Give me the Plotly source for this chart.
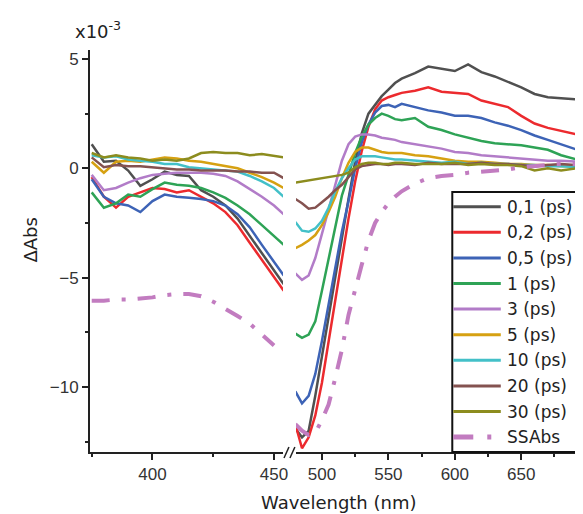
import plotly.graph_objects as go

# wavelengths (nm) of the two pieces of the broken axis
WL_LEFT = [375, 380, 385, 390, 395, 400, 405, 410, 415, 420, 425, 430, 435, 440, 445, 450, 454]
WL_RIGHT = [480, 485, 490, 495, 500, 505, 510, 515, 520, 525, 530, 535, 540, 545, 550, 555, 560,
            570, 580, 590, 600, 610, 620, 630, 640, 650, 660, 670, 680, 692]

# delta Abs in units of 1e-3
T01_L = [1.1, 0.3, 0.35, -0.1, -0.8, -0.5, -0.15, -0.3, -0.35, -1.0, -1.3, -1.7, -2.3, -3.1, -3.9, -4.7, -5.3]
T01_R = [-11.9, -12.3, -12.0, -10.4, -8.6, -6.8, -4.8, -3.1, -1.4, 0.3, 1.6, 2.5, 2.9, 3.3, 3.6, 3.9, 4.1,
         4.35, 4.65, 4.55, 4.45, 4.75, 4.4, 4.2, 3.95, 3.7, 3.4, 3.25, 3.2, 3.15]
T02_L = [-0.4, -1.3, -1.8, -1.3, -1.1, -0.9, -0.95, -1.1, -1.0, -1.3, -1.6, -2.0, -2.6, -3.4, -4.2, -5.0, -5.6]
T02_R = [-11.7, -12.8, -12.3, -11.3, -9.8, -7.9, -5.9, -4.1, -2.3, -0.6, 0.8, 1.9, 2.7, 3.1, 3.25, 3.35, 3.45,
         3.55, 3.7, 3.5, 3.45, 3.4, 3.1, 2.95, 2.8, 2.4, 2.05, 1.85, 1.7, 1.55]
T05_L = [-0.5, -1.3, -1.6, -1.7, -2.0, -1.5, -1.2, -1.3, -1.35, -1.4, -1.5, -1.7, -2.1, -2.7, -3.5, -4.3, -4.9]
T05_R = [-10.2, -10.75, -10.4, -9.4, -7.9, -6.2, -4.5, -2.9, -1.5, 0.0, 1.2, 2.0, 2.55, 2.85, 2.9, 2.8, 2.95,
         2.8, 2.65, 2.55, 2.4, 2.4, 2.3, 2.1, 1.95, 1.75, 1.5, 1.3, 1.1, 0.85]
T1_L = [-1.1, -1.8, -1.6, -1.2, -1.3, -0.95, -0.65, -0.75, -0.8, -0.9, -1.1, -1.35, -1.7, -2.1, -2.6, -3.1, -3.5]
T1_R = [-7.55, -7.75, -7.6, -7.0, -5.6, -4.1, -2.6, -1.25, -0.3, 0.7, 1.45, 2.0, 2.3, 2.5, 2.4, 2.25, 2.2,
        2.3, 1.9, 1.75, 1.55, 1.4, 1.25, 1.15, 1.1, 1.05, 0.95, 0.85, 0.6, 0.4]
T3_L = [-0.3, -1.0, -0.9, -0.65, -0.45, -0.3, -0.25, -0.2, -0.2, -0.2, -0.25, -0.35, -0.6, -0.95, -1.3, -1.7, -2.1]
T3_R = [-4.8, -5.1, -4.9, -4.1, -3.0, -1.9, -0.85, 0.35, 1.1, 1.45, 1.55, 1.55, 1.5, 1.4, 1.35, 1.3, 1.2,
        1.1, 1.0, 0.9, 0.75, 0.7, 0.6, 0.55, 0.5, 0.45, 0.4, 0.35, 0.35, 0.3]
T5_L = [0.3, -0.2, 0.3, 0.35, 0.3, 0.4, 0.5, 0.45, 0.35, 0.3, 0.2, 0.1, 0.0, -0.2, -0.4, -0.65, -0.9]
T5_R = [-3.65, -3.5, -3.3, -3.05, -2.6, -2.0, -1.3, -0.45, 0.25, 0.75, 0.95, 0.95, 0.85, 0.75, 0.7, 0.7, 0.7,
        0.6, 0.55, 0.45, 0.35, 0.3, 0.3, 0.25, 0.2, 0.2, 0.15, 0.15, 0.1, 0.1]
T10_L = [0.6, 0.5, 0.55, 0.4, 0.35, 0.3, 0.2, 0.2, 0.05, 0.0, -0.05, -0.1, -0.15, -0.35, -0.6, -0.9, -1.3]
T10_R = [-2.45, -2.85, -2.9, -2.75, -2.4, -1.8, -1.05, -0.45, 0.0, 0.4, 0.55, 0.55, 0.55, 0.5, 0.45, 0.4, 0.4,
         0.35, 0.3, 0.25, 0.3, 0.2, 0.25, 0.2, 0.2, 0.15, 0.15, 0.1, 0.1, 0.05]
T20_L = [0.5, 0.05, 0.15, 0.1, 0.1, 0.05, 0.0, -0.05, -0.05, -0.1, -0.1, -0.1, -0.15, -0.15, -0.2, -0.2, -0.45]
T20_R = [-1.4, -1.6, -1.85, -1.8, -1.55, -1.3, -1.0, -0.75, -0.4, -0.05, 0.1, 0.15, 0.2, 0.2, 0.15, 0.2, 0.2,
         0.15, 0.25, 0.2, 0.2, 0.2, 0.25, 0.2, 0.2, 0.15, 0.1, 0.15, 0.2, 0.15]
T30_L = [0.7, 0.5, 0.6, 0.5, 0.45, 0.35, 0.4, 0.35, 0.45, 0.7, 0.75, 0.7, 0.7, 0.6, 0.65, 0.55, 0.5]
T30_R = [-0.65, -0.6, -0.55, -0.5, -0.45, -0.4, -0.35, -0.3, -0.2, 0.05, 0.2, 0.25, 0.25, 0.2, 0.2, 0.25, 0.25,
         0.2, 0.2, 0.2, 0.25, 0.15, 0.2, 0.15, 0.15, 0.1, -0.1, 0.0, -0.1, 0.0]
SS_L = [-6.05, -6.05, -6.0, -6.0, -5.95, -5.9, -5.8, -5.75, -5.75, -5.85, -6.1, -6.4, -6.75, -7.1, -7.6, -8.1, None]
SS_R = [-11.7, -12.0, -12.2, -12.1, -11.5, -10.8, -9.6, -8.3, -6.7, -5.5, -4.4, -3.3, -2.5, -2.0, -1.6, -1.3, -1.05,
        -0.7, -0.45, -0.35, -0.3, -0.2, -0.15, -0.1, -0.05, 0.05, 0.1, 0.15, 0.2, 0.2]

LABELS = ['0,1 (ps)', '0,2 (ps)', '0,5 (ps)', '1 (ps)', '3 (ps)', '5 (ps)', '10 (ps)', '20 (ps)', '30 (ps)', 'SSAbs']
COLORS = ['#505050', '#ec2a2e', '#3d63b6', '#2ea356', '#b27cc8', '#d6a112', '#43c0c8', '#845250', '#8c8c1e', '#c27cc0']
LEFT = [T01_L, T02_L, T05_L, T1_L, T3_L, T5_L, T10_L, T20_L, T30_L, SS_L]
RIGHT = [T01_R, T02_R, T05_R, T1_R, T3_R, T5_R, T10_R, T20_R, T30_R, SS_R]

# the page has an 8px body margin, so the figure is drawn 8px right and down
OFF = 8
PAGE_W, PAGE_H = 583, 514
PL, PT, PB = 90, 50, 452          # plot area in page pixels (right edge = page edge)
W, H = PAGE_W - OFF, PAGE_H - OFF
ML, MT, MR = PL - OFF, PT - OFF, 0
MB = H - (PB - OFF)
PW, PH = PAGE_W - PL, PB - PT


def px(x):
    return (x - PL) / PW


def py(y):
    return (PB - y) / PH


SS_DASH = '18px,12px,4px,12px'

fig = go.Figure()
for lab, col, yl, yr in zip(LABELS, COLORS, LEFT, RIGHT):
    is_ss = lab == 'SSAbs'
    ln = dict(color=col, width=4 if is_ss else 2.5, dash=SS_DASH if is_ss else 'solid')
    fig.add_trace(go.Scatter(x=WL_LEFT, y=yl, mode='lines', line=ln, name=lab,
                             xaxis='x', yaxis='y', showlegend=False))
    fig.add_trace(go.Scatter(x=WL_RIGHT, y=yr, mode='lines', line=ln, name=lab,
                             xaxis='x2', yaxis='y', showlegend=False))

tickfont = dict(family='Liberation Sans, Arial, sans-serif', size=17, color='#333')
axis_common = dict(showline=True, linecolor='#222', linewidth=2, showgrid=False, zeroline=False,
                   ticks='outside', ticklen=6, tickwidth=2, tickcolor='#222', tickfont=tickfont)
minor_x = dict(dtick=25, ticks='outside', ticklen=3, tickwidth=2, tickcolor='#222')

fig.update_layout(
    width=W, height=H,
    margin=dict(l=ML, r=MR, t=MT, b=MB),
    paper_bgcolor='white', plot_bgcolor='white',
    showlegend=False,
    xaxis=dict(domain=[0, px(285)], range=[374.3, 453.7], anchor='y', tick0=0, dtick=50,
               minor=minor_x, **axis_common),
    xaxis2=dict(domain=[px(298), 1], range=[480.4, 692.7], anchor='y', tick0=0, dtick=50,
                minor=minor_x, **axis_common),
    yaxis=dict(range=[-12.97, 5.41], anchor='x', tick0=0, dtick=5,
               minor=dict(dtick=2.5, ticks='outside', ticklen=3, tickwidth=2, tickcolor='#222'),
               **axis_common),
)

txtfont = dict(family='DejaVu Sans, sans-serif', size=18, color='#222')
legfont = dict(family='DejaVu Sans, sans-serif', size=17, color='#222')
ann = [
    dict(x=px(73), y=py(30), xref='paper', yref='paper', xanchor='left', yanchor='middle',
         text='x10<sup>-3</sup>', showarrow=False, font=txtfont),
    dict(x=px(30), y=py(240), xref='paper', yref='paper', xanchor='center', yanchor='middle',
         text='ΔAbs', textangle=-90, showarrow=False, font=txtfont),
    dict(x=px(342), y=py(502), xref='paper', yref='paper', xanchor='center', yanchor='middle',
         text='Wavelength (nm)', showarrow=False, font=txtfont),
]

shapes = [
    # axis break marks
    dict(type='line', xref='paper', yref='paper', x0=px(286), y0=py(458), x1=px(291), y1=py(447),
         line=dict(color='#222', width=1.5)),
    dict(type='line', xref='paper', yref='paper', x0=px(292), y0=py(458), x1=px(297), y1=py(447),
         line=dict(color='#222', width=1.5)),
    # legend box
    dict(type='rect', xref='paper', yref='paper', x0=px(456), y0=0, x1=1.05, y1=py(192),
         fillcolor='white', line=dict(color='#111', width=2), layer='above'),
]

row0, step = 206.7, 25.6
for i, (lab, col) in enumerate(zip(LABELS, COLORS)):
    yy = py(row0 + i * step)
    is_ss = lab == 'SSAbs'
    shapes.append(dict(type='line', xref='paper', yref='paper', x0=px(457), x1=px(505), y0=yy, y1=yy,
                       line=dict(color=col, width=5 if is_ss else 3,
                                 dash='20px,14px,4px,20px' if is_ss else 'solid'),
                       layer='above'))
    ann.append(dict(x=px(509), y=yy, xref='paper', yref='paper', xanchor='left', yanchor='middle',
                    text=lab, showarrow=False, font=legfont))

fig.update_layout(annotations=ann, shapes=shapes)

fig.write_html("out.html")
